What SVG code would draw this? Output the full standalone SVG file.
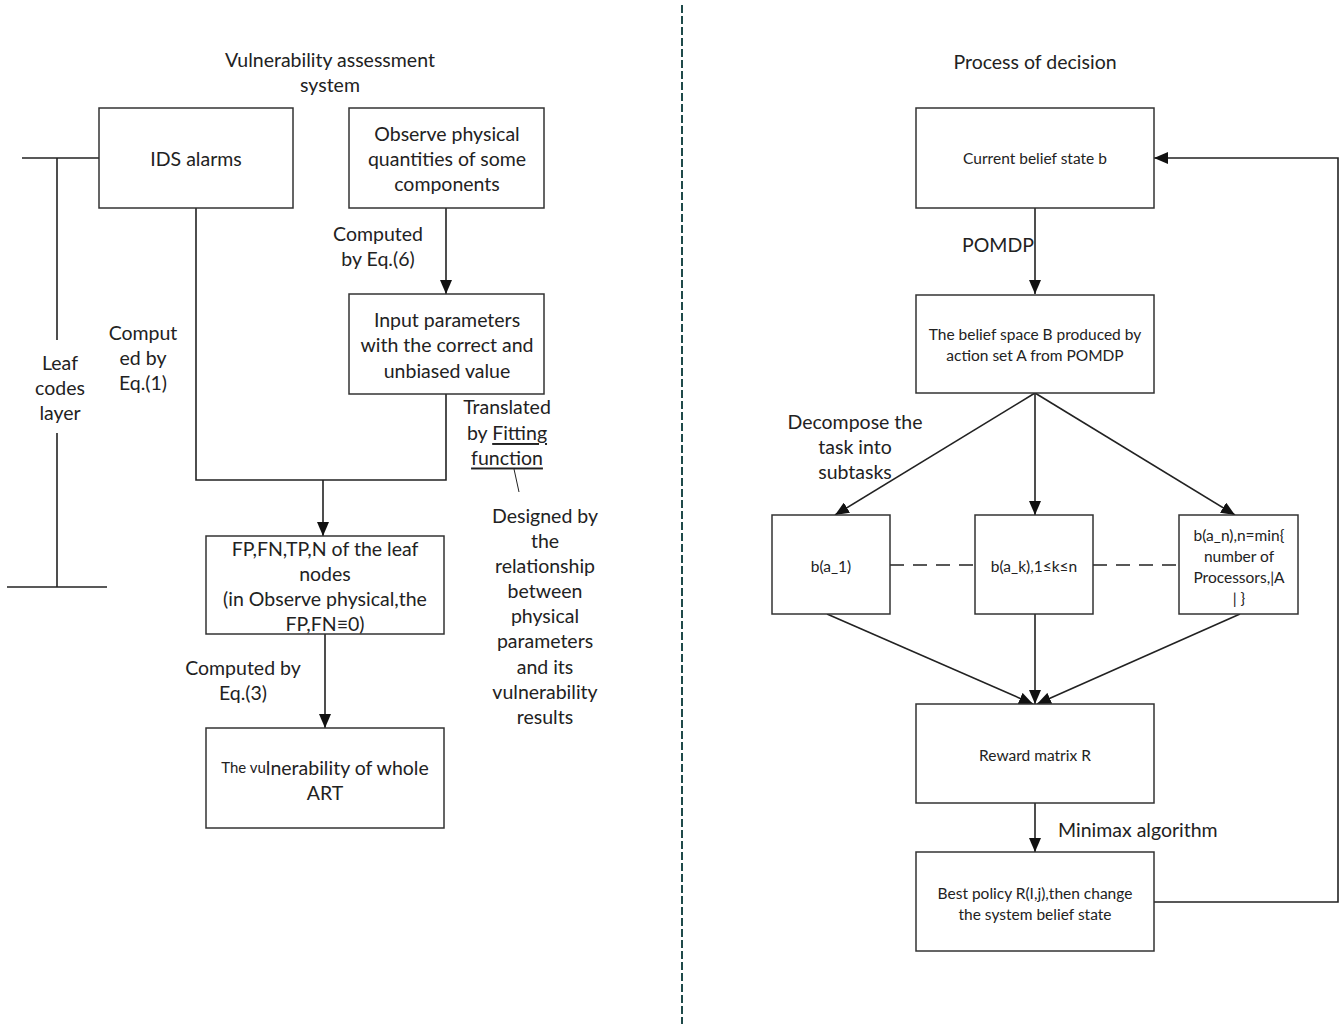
<svg xmlns="http://www.w3.org/2000/svg" width="1341" height="1024" viewBox="0 0 1341 1024">
<style>
.box{fill:#fff;stroke:#333;stroke-width:1.5}
.ln{fill:none;stroke:#222;stroke-width:1.6}
.t{font-family:"Lato","Open Sans",sans-serif;font-size:19.5px;fill:#222;text-anchor:middle;dominant-baseline:central}
.s{font-family:"Lato","Open Sans",sans-serif;font-size:15.5px;fill:#222;text-anchor:middle;dominant-baseline:central}
</style>
<defs>
<marker id="ar" viewBox="0 0 14 12" refX="14" refY="6" markerWidth="14" markerHeight="12" markerUnits="userSpaceOnUse" orient="auto">
<path d="M0,0 L14,6 L0,12 z" fill="#111"/>
</marker>
</defs>
<rect width="1341" height="1024" fill="#fff"/>
<line x1="682" y1="5" x2="682" y2="1024" stroke="#1f4a4a" stroke-width="2" stroke-dasharray="8,3"/>

<g id="titles">
<text class="t" x="330" y="59">Vulnerability assessment</text>
<text class="t" x="330" y="84">system</text>
<text class="t" x="1035" y="61">Process of decision</text>
</g>

<g id="connectors">
<line class="ln" x1="22" y1="158" x2="99" y2="158"/>
<line class="ln" x1="57" y1="158" x2="57" y2="340"/>
<line class="ln" x1="57" y1="433" x2="57" y2="587"/>
<line class="ln" x1="7" y1="587" x2="107" y2="587"/>
<polyline class="ln" points="196,208 196,480 446,480 446,394"/>
<line class="ln" x1="323" y1="480" x2="323" y2="536" marker-end="url(#ar)"/>
<line class="ln" x1="446" y1="208" x2="446" y2="294" marker-end="url(#ar)"/>
<line class="ln" x1="325" y1="634" x2="325" y2="728" marker-end="url(#ar)"/>
<line x1="514" y1="469" x2="519" y2="492" stroke="#222" stroke-width="1"/>
<line class="ln" x1="1035" y1="208" x2="1035" y2="294" marker-end="url(#ar)"/>
<line class="ln" x1="1035" y1="393" x2="835" y2="515" marker-end="url(#ar)"/>
<line class="ln" x1="1035" y1="393" x2="1035" y2="515" marker-end="url(#ar)"/>
<line class="ln" x1="1035" y1="393" x2="1235" y2="515" marker-end="url(#ar)"/>
<line class="ln" x1="890" y1="565" x2="975" y2="565" stroke-dasharray="14,9"/>
<line class="ln" x1="1093" y1="565" x2="1179" y2="565" stroke-dasharray="14,9"/>
<line class="ln" x1="827" y1="614" x2="1033" y2="704" marker-end="url(#ar)"/>
<line class="ln" x1="1035" y1="614" x2="1035" y2="704" marker-end="url(#ar)"/>
<line class="ln" x1="1240" y1="614" x2="1037" y2="704" marker-end="url(#ar)"/>
<line class="ln" x1="1035" y1="803" x2="1035" y2="852" marker-end="url(#ar)"/>
<polyline class="ln" points="1154,902 1338,902 1338,158 1154,158" marker-end="url(#ar)"/>
</g>

<g id="labels">
<text class="t" x="60" y="362">Leaf</text>
<text class="t" x="60" y="387">codes</text>
<text class="t" x="60" y="412">layer</text>
<text class="t" x="143" y="332">Comput</text>
<text class="t" x="143" y="357">ed by</text>
<text class="t" x="143" y="382">Eq.(1)</text>
<text class="t" x="378" y="233">Computed</text>
<text class="t" x="378" y="258">by Eq.(6)</text>
<text class="t" x="507" y="406">Translated</text>
<text class="t" x="507" y="432">by <tspan text-decoration="underline">Fitting</tspan></text>
<text class="t" x="507" y="457" text-decoration="underline">function</text>
<text class="t" x="545" y="515">Designed by</text>
<text class="t" x="545" y="540">the</text>
<text class="t" x="545" y="565">relationship</text>
<text class="t" x="545" y="590">between</text>
<text class="t" x="545" y="615">physical</text>
<text class="t" x="545" y="640">parameters</text>
<text class="t" x="545" y="666">and its</text>
<text class="t" x="545" y="691">vulnerability</text>
<text class="t" x="545" y="716">results</text>
<text class="t" x="243" y="667">Computed by</text>
<text class="t" x="243" y="692">Eq.(3)</text>
<text class="t" x="998" y="244">POMDP</text>
<text class="t" x="855" y="421">Decompose the</text>
<text class="t" x="855" y="446">task into</text>
<text class="t" x="855" y="471">subtasks</text>
<text class="t" x="1058" y="829" style="text-anchor:start">Minimax algorithm</text>
</g>

<g id="ids">
<rect class="box" x="99" y="108" width="194" height="100"/>
<text class="t" x="196" y="158">IDS alarms</text>
</g>
<g id="observe">
<rect class="box" x="349" y="108" width="195" height="100"/>
<text class="t" x="447" y="133">Observe physical</text>
<text class="t" x="447" y="158">quantities of some</text>
<text class="t" x="447" y="183">components</text>
</g>
<g id="input">
<rect class="box" x="349" y="294" width="195" height="100"/>
<text class="t" x="447" y="319">Input parameters</text>
<text class="t" x="447" y="344">with the correct and</text>
<text class="t" x="447" y="370">unbiased value</text>
</g>
<g id="fp">
<rect class="box" x="206" y="536" width="238" height="98"/>
<text class="t" x="325" y="548">FP,FN,TP,N of the leaf</text>
<text class="t" x="325" y="573">nodes</text>
<text class="t" x="325" y="598">(in Observe physical,the</text>
<text class="t" x="325" y="623">FP,FN≡0)</text>
</g>
<g id="vuln">
<rect class="box" x="206" y="728" width="238" height="100"/>
<text class="t" x="325" y="767"><tspan font-size="15">The vu</tspan>lnerability of whole</text>
<text class="t" x="325" y="792">ART</text>
</g>

<g id="current">
<rect class="box" x="916" y="108" width="238" height="100"/>
<text class="s" x="1035" y="158">Current belief state b</text>
</g>
<g id="beliefspace">
<rect class="box" x="916" y="295" width="238" height="98"/>
<text class="s" x="1035" y="334">The belief space B produced by</text>
<text class="s" x="1035" y="355">action set A from POMDP</text>
</g>
<g id="b1">
<rect class="box" x="772" y="515" width="118" height="99"/>
<text class="s" x="831" y="566">b(a_1)</text>
</g>
<g id="bk">
<rect class="box" x="975" y="515" width="118" height="99"/>
<text class="s" x="1034" y="566">b(a_k),1≤k≤n</text>
</g>
<g id="bn">
<rect class="box" x="1179" y="515" width="119" height="99"/>
<text class="s" x="1239" y="535">b(a_n),n=min{</text>
<text class="s" x="1239" y="556">number of</text>
<text class="s" x="1239" y="577">Processors,|A</text>
<text class="s" x="1239" y="598">| }</text>
</g>
<g id="reward">
<rect class="box" x="916" y="704" width="238" height="99"/>
<text class="s" x="1035" y="755">Reward matrix R</text>
</g>
<g id="policy">
<rect class="box" x="916" y="852" width="238" height="99"/>
<text class="s" x="1035" y="893">Best policy R(I,j),then change</text>
<text class="s" x="1035" y="914">the system belief state</text>
</g>
</svg>
